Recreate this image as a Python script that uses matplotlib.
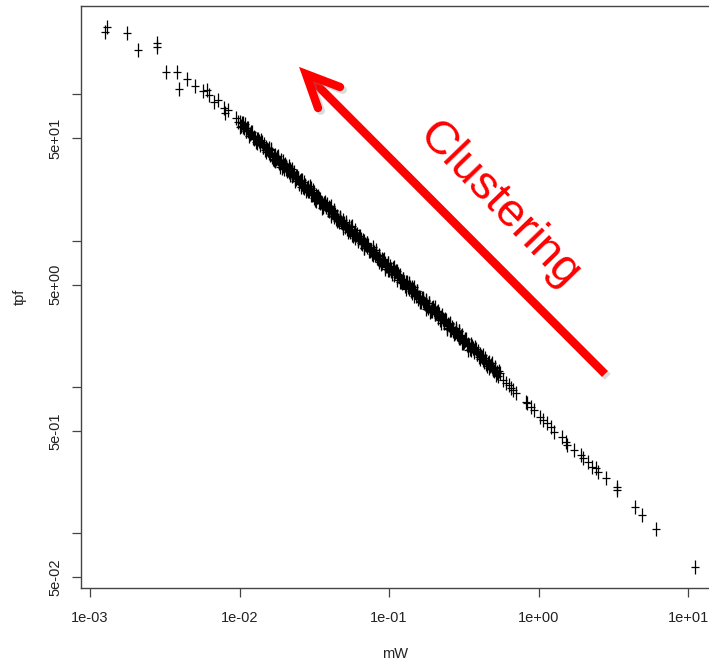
import matplotlib.pyplot as plt
from matplotlib.lines import Line2D
import matplotlib.patheffects as pe
import numpy as np

plt.rcParams['font.family'] = ['Liberation Sans', 'DejaVu Sans']

# values, stored as log10(value)
# sparse points at the top-left end
sparse_log_mw = [-2.900, -2.888, -2.750, -2.681, -2.549, -2.553, -2.489, -2.419,
                 -2.406, -2.348, -2.295, -2.241, -2.219, -2.205, -2.169, -2.145,
                 -2.107, -2.096, -2.076, -2.024, -2.009]
sparse_log_tpf = [2.428, 2.458, 2.421, 2.303, 2.325, 2.347, 2.154, 2.154,
                  2.034, 2.104, 2.057, 2.022, 2.029, 1.995, 1.949, 1.961,
                  1.906, 1.872, 1.892, 1.838, 1.810]

# the dense band in the middle (three passes over it)
band_log_mw = [
    -2.00, -1.99, -1.98, -1.97, -1.96, -1.95, -1.94, -1.93, -1.92, -1.91,
    -1.90, -1.89, -1.88, -1.87, -1.86, -1.85, -1.84, -1.83, -1.82, -1.81,
    -1.80, -1.79, -1.78, -1.77, -1.76, -1.75, -1.74, -1.73, -1.72, -1.71,
    -1.70, -1.69, -1.68, -1.67, -1.66, -1.65, -1.64, -1.63, -1.62, -1.61,
    -1.60, -1.59, -1.58, -1.57, -1.56, -1.55, -1.54, -1.53, -1.52, -1.51,
    -1.50, -1.49, -1.48, -1.47, -1.46, -1.45, -1.44, -1.43, -1.42, -1.41,
    -1.40, -1.39, -1.38, -1.37, -1.36, -1.35, -1.34, -1.33, -1.32, -1.31,
    -1.30, -1.29, -1.28, -1.27, -1.26, -1.25, -1.24, -1.23, -1.22, -1.21,
    -1.20, -1.19, -1.18, -1.17, -1.16, -1.15, -1.14, -1.13, -1.12, -1.11,
    -1.10, -1.09, -1.08, -1.07, -1.06, -1.05, -1.04, -1.03, -1.02, -1.01,
    -1.00, -0.99, -0.98, -0.97, -0.96, -0.95, -0.94, -0.93, -0.92, -0.91,
    -0.90, -0.89, -0.88, -0.87, -0.86, -0.85, -0.84, -0.83, -0.82, -0.81,
    -0.80, -0.79, -0.78, -0.77, -0.76, -0.75, -0.74, -0.73, -0.72, -0.71,
    -0.70, -0.69, -0.68, -0.67, -0.66, -0.65, -0.64, -0.63, -0.62, -0.61,
    -0.60, -0.59, -0.58, -0.57, -0.56, -0.55, -0.54, -0.53, -0.52, -0.51,
    -0.50, -0.49, -0.48, -0.47, -0.46, -0.45, -0.44, -0.43, -0.42, -0.41,
    -0.40, -0.39, -0.38, -0.37, -0.36, -0.35, -0.34, -0.33, -0.32, -0.31,
    -0.30, -0.29, -0.28, -0.27, -0.26]
band_log_tpf = [
    1.812, 1.782, 1.801, 1.770, 1.746, 1.767, 1.748, 1.726, 1.745, 1.700,
    1.710, 1.675, 1.696, 1.683, 1.653, 1.673, 1.642, 1.618, 1.638, 1.619,
    1.597, 1.616, 1.571, 1.581, 1.546, 1.567, 1.555, 1.525, 1.544, 1.513,
    1.489, 1.509, 1.490, 1.468, 1.487, 1.442, 1.453, 1.418, 1.439, 1.426,
    1.396, 1.415, 1.384, 1.360, 1.380, 1.362, 1.340, 1.359, 1.314, 1.324,
    1.289, 1.310, 1.297, 1.267, 1.286, 1.256, 1.232, 1.252, 1.233, 1.211,
    1.230, 1.185, 1.195, 1.160, 1.181, 1.169, 1.139, 1.158, 1.127, 1.103,
    1.123, 1.104, 1.082, 1.101, 1.056, 1.067, 1.032, 1.053, 1.040, 1.010,
    1.029, 0.998, 0.974, 0.994, 0.975, 0.953, 0.973, 0.928, 0.938, 0.903,
    0.924, 0.911, 0.881, 0.900, 0.869, 0.845, 0.866, 0.847, 0.825, 0.844,
    0.799, 0.809, 0.774, 0.795, 0.782, 0.752, 0.772, 0.741, 0.717, 0.737,
    0.718, 0.696, 0.715, 0.670, 0.680, 0.645, 0.667, 0.654, 0.624, 0.643,
    0.612, 0.588, 0.608, 0.589, 0.567, 0.586, 0.542, 0.552, 0.517, 0.538,
    0.525, 0.495, 0.514, 0.483, 0.459, 0.479, 0.461, 0.439, 0.458, 0.413,
    0.423, 0.388, 0.409, 0.396, 0.366, 0.385, 0.355, 0.331, 0.351, 0.332,
    0.310, 0.329, 0.284, 0.294, 0.259, 0.280, 0.268, 0.238, 0.257, 0.226,
    0.202, 0.222, 0.203, 0.181, 0.200, 0.155, 0.166, 0.131, 0.152, 0.139,
    0.109, 0.128, 0.097, 0.073, 0.093]

band2_log_mw = [
    -1.995, -1.985, -1.975, -1.965, -1.955, -1.945, -1.935, -1.925, -1.915, -1.905,
    -1.895, -1.885, -1.875, -1.865, -1.855, -1.845, -1.835, -1.825, -1.815, -1.805,
    -1.795, -1.785, -1.775, -1.765, -1.755, -1.745, -1.735, -1.725, -1.715, -1.705,
    -1.695, -1.685, -1.675, -1.665, -1.655, -1.645, -1.635, -1.625, -1.615, -1.605,
    -1.595, -1.585, -1.575, -1.565, -1.555, -1.545, -1.535, -1.525, -1.515, -1.505,
    -1.495, -1.485, -1.475, -1.465, -1.455, -1.445, -1.435, -1.425, -1.415, -1.405,
    -1.395, -1.385, -1.375, -1.365, -1.355, -1.345, -1.335, -1.325, -1.315, -1.305,
    -1.295, -1.285, -1.275, -1.265, -1.255, -1.245, -1.235, -1.225, -1.215, -1.205,
    -1.195, -1.185, -1.175, -1.165, -1.155, -1.145, -1.135, -1.125, -1.115, -1.105,
    -1.095, -1.085, -1.075, -1.065, -1.055, -1.045, -1.035, -1.025, -1.015, -1.005,
    -0.995, -0.985, -0.975, -0.965, -0.955, -0.945, -0.935, -0.925, -0.915, -0.905,
    -0.895, -0.885, -0.875, -0.865, -0.855, -0.845, -0.835, -0.825, -0.815, -0.805,
    -0.795, -0.785, -0.775, -0.765, -0.755, -0.745, -0.735, -0.725, -0.715, -0.705,
    -0.695, -0.685, -0.675, -0.665, -0.655, -0.645, -0.635, -0.625, -0.615, -0.605,
    -0.595, -0.585, -0.575, -0.565, -0.555, -0.545, -0.535, -0.525, -0.515, -0.505,
    -0.495, -0.485, -0.475, -0.465, -0.455, -0.445, -0.435, -0.425, -0.415, -0.405,
    -0.395, -0.385, -0.375, -0.365, -0.355, -0.345, -0.335, -0.325, -0.315, -0.305,
    -0.295, -0.285, -0.275, -0.265]
band2_log_tpf = [
    1.777, 1.804, 1.774, 1.795, 1.747, 1.770, 1.713, 1.736, 1.744, 1.693,
    1.700, 1.668, 1.695, 1.665, 1.686, 1.639, 1.661, 1.604, 1.627, 1.635,
    1.584, 1.591, 1.559, 1.586, 1.556, 1.578, 1.530, 1.552, 1.495, 1.518,
    1.526, 1.475, 1.482, 1.450, 1.477, 1.448, 1.469, 1.421, 1.443, 1.386,
    1.409, 1.417, 1.366, 1.373, 1.341, 1.369, 1.339, 1.360, 1.312, 1.334,
    1.277, 1.300, 1.308, 1.257, 1.264, 1.233, 1.260, 1.230, 1.251, 1.203,
    1.225, 1.168, 1.191, 1.199, 1.148, 1.156, 1.124, 1.151, 1.121, 1.142,
    1.094, 1.116, 1.059, 1.082, 1.090, 1.040, 1.047, 1.015, 1.042, 1.012,
    1.033, 0.985, 1.007, 0.950, 0.973, 0.982, 0.931, 0.938, 0.906, 0.933,
    0.903, 0.924, 0.876, 0.898, 0.841, 0.865, 0.873, 0.822, 0.829, 0.797,
    0.824, 0.794, 0.815, 0.767, 0.789, 0.733, 0.756, 0.764, 0.713, 0.720,
    0.688, 0.715, 0.685, 0.706, 0.658, 0.681, 0.624, 0.647, 0.655, 0.604,
    0.611, 0.579, 0.606, 0.576, 0.597, 0.550, 0.572, 0.515, 0.538, 0.546,
    0.495, 0.502, 0.470, 0.497, 0.467, 0.489, 0.441, 0.463, 0.406, 0.429,
    0.437, 0.386, 0.393, 0.361, 0.388, 0.359, 0.380, 0.332, 0.354, 0.297,
    0.320, 0.328, 0.277, 0.284, 0.252, 0.280, 0.250, 0.271, 0.223, 0.245,
    0.188, 0.211, 0.219, 0.168, 0.175, 0.144, 0.171, 0.141, 0.162, 0.114,
    0.136, 0.079, 0.102, 0.110]

band3_log_mw = [
    -1.79, -1.77, -1.75, -1.73, -1.71, -1.69, -1.67, -1.65, -1.63, -1.61,
    -1.59, -1.57, -1.55, -1.53, -1.51, -1.49, -1.47, -1.45, -1.43, -1.41,
    -1.39, -1.37, -1.35, -1.33, -1.31, -1.29, -1.27, -1.25, -1.23, -1.21,
    -1.19, -1.17, -1.15, -1.13, -1.11, -1.09, -1.07, -1.05, -1.03, -1.01,
    -0.99, -0.97, -0.95, -0.93, -0.91, -0.89, -0.87, -0.85, -0.83, -0.81,
    -0.79, -0.77, -0.75, -0.73, -0.71, -0.69, -0.67, -0.65, -0.63, -0.61,
    -0.59, -0.57, -0.55, -0.53, -0.51, -0.49, -0.47, -0.45]
band3_log_tpf = [
    1.626, 1.548, 1.568, 1.502, 1.541, 1.489, 1.513, 1.487, 1.410, 1.430,
    1.363, 1.402, 1.350, 1.375, 1.349, 1.271, 1.291, 1.224, 1.264, 1.212,
    1.236, 1.210, 1.132, 1.153, 1.086, 1.125, 1.073, 1.097, 1.072, 0.994,
    1.014, 0.947, 0.986, 0.935, 0.959, 0.933, 0.855, 0.875, 0.809, 0.848,
    0.796, 0.820, 0.794, 0.717, 0.737, 0.670, 0.709, 0.657, 0.682, 0.656,
    0.578, 0.598, 0.531, 0.571, 0.519, 0.543, 0.517, 0.439, 0.460, 0.393,
    0.432, 0.380, 0.404, 0.379, 0.301, 0.321, 0.254, 0.293]

# sparse points at the bottom-right end
tail_log_mw = [-0.240, -0.220, -0.200, -0.187, -0.170, -0.153,
               -0.086, -0.075, -0.053, -0.031, 0.009, 0.032, 0.059, 0.086,
               0.103, 0.159, 0.181, 0.193, 0.237, 0.282, 0.300, 0.331,
               0.360, 0.382, 0.394, 0.451, 0.521, 0.521, 0.642, 0.693,
               0.786, 1.043]
tail_log_tpf = [0.050, 0.027, 0.010, -0.008, -0.020, -0.042,
                -0.101, -0.112, -0.136, -0.158, -0.204, -0.226, -0.249, -0.272,
                -0.306, -0.341, -0.375, -0.397, -0.432, -0.466, -0.488, -0.512,
                -0.546, -0.555, -0.580, -0.625, -0.705, -0.684, -0.819, -0.876,
                -0.974, -1.229]

all_log_mw = sparse_log_mw + band_log_mw + band2_log_mw + band3_log_mw + tail_log_mw
all_log_tpf = sparse_log_tpf + band_log_tpf + band2_log_tpf + band3_log_tpf + tail_log_tpf
mw = 10 ** np.array(all_log_mw)
tpf = 10 ** np.array(all_log_tpf)

x_ticks = [1e-3, 1e-2, 1e-1, 1e0, 1e1]
x_labels = ['1e-03', '1e-02', '1e-01', '1e+00', '1e+01']
y_ticks = [0.05, 0.1, 0.5, 1, 5, 10, 50, 100]
y_labels = ['5e-02', '', '5e-01', '', '5e+00', '', '5e+01', '']

W, H = 709, 660
fig = plt.figure(figsize=(W / 100, H / 100), dpi=100)
ax = fig.add_axes([81 / W, 72 / H, 629 / W, 582 / H])
ax.set_xscale('log')
ax.set_yscale('log')

ax.plot(mw, tpf, ls='none', marker='|', ms=10, mew=0.9, color='black')
ax.plot(mw, tpf, ls='none', marker='_', ms=5.5, mew=0.9, color='black')

ax.set_xlim(10 ** -3.06, 10 ** 1.146)
ax.set_ylim(10 ** -1.374, 10 ** 2.603)

ax.set_xticks(x_ticks)
ax.set_xticklabels(x_labels)
ax.set_yticks(y_ticks)
ax.set_yticklabels(y_labels, rotation=90, va='center')
ax.minorticks_off()
ax.tick_params(axis='both', direction='out', length=6.3, width=0.9,
               color='#444444', labelsize=10.5, labelcolor='#222222')
ax.tick_params(axis='x', pad=10)
ax.tick_params(axis='y', pad=7)

for s in ['left', 'bottom', 'top']:
    ax.spines[s].set_color('#444444')
    ax.spines[s].set_linewidth(1.0)
ax.spines['right'].set_visible(False)

ax.set_xlabel('mW', fontsize=10.5, labelpad=16, color='#222222')
ax.set_ylabel('tpf', fontsize=10.5, labelpad=16, color='#222222')

# red annotation arrow, in figure pixels
def fx(px):
    return px / W

def fy(py):
    return 1 - py / H

shadow = [pe.SimpleLineShadow(offset=(2, -2), shadow_color='#888888', alpha=0.3), pe.Normal()]
tip = (306, 74)
tail = (605, 374)
arm1 = (340, 87)
arm2 = (318, 108)
shaft = Line2D([fx(tail[0]), fx(tip[0])], [fy(tail[1]), fy(tip[1])],
               transform=fig.transFigure, color='#ff0000', lw=6,
               solid_capstyle='butt', path_effects=shadow)
head = Line2D([fx(arm1[0]), fx(tip[0]), fx(arm2[0])],
              [fy(arm1[1]), fy(tip[1]), fy(arm2[1])],
              transform=fig.transFigure, color='#ff0000', lw=6,
              solid_capstyle='round', solid_joinstyle='miter', path_effects=shadow)
fig.add_artist(shaft)
fig.add_artist(head)

fig.text(fx(499), fy(205), 'Clustering', color='#ff0000', fontsize=34,
         rotation=-46, ha='center', va='center', rotation_mode='anchor')

fig.savefig('out.png', dpi=100)
